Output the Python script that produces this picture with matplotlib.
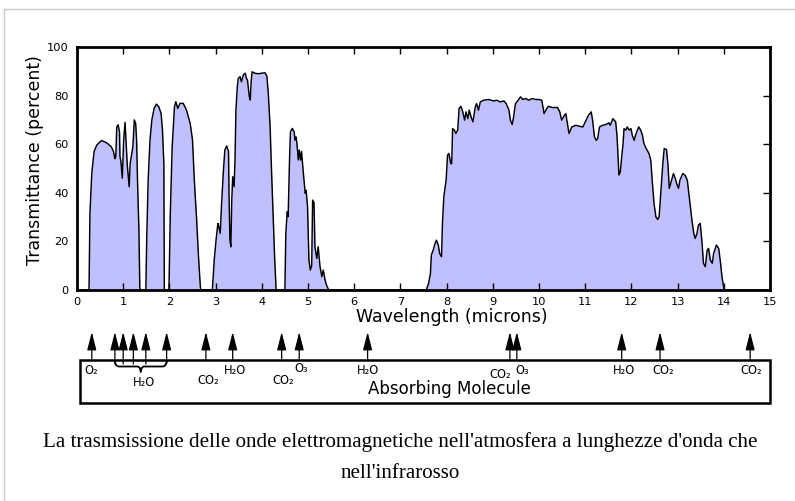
import matplotlib
matplotlib.use("Agg")
import matplotlib.pyplot as plt
from matplotlib.lines import Line2D
from matplotlib.patches import Rectangle

# ---------------- data ----------------
wavelength = [
    0.0, 0.26, 0.28, 0.32, 0.37, 0.43, 0.53, 0.64, 0.74, 0.79, 0.82, 0.84, 0.86, 0.89, 0.92,
    0.93, 0.95, 0.98, 1.01, 1.04, 1.06, 1.09, 1.13, 1.15, 1.21, 1.24, 1.27, 1.29, 1.31, 1.34,
    1.36, 1.37,
    1.49, 1.51, 1.54, 1.58, 1.62, 1.67, 1.72, 1.77, 1.82, 1.85, 1.88, 1.89,
    1.99, 2.02, 2.06, 2.11, 2.14, 2.18, 2.23, 2.30, 2.37, 2.45, 2.50, 2.54, 2.59, 2.63, 2.67, 2.68,
    2.93, 2.97, 3.01, 3.05, 3.07, 3.10, 3.13, 3.17, 3.20, 3.24, 3.28, 3.29, 3.31, 3.33, 3.35,
    3.37, 3.40, 3.42, 3.44, 3.47, 3.49, 3.53, 3.56, 3.60, 3.64, 3.67, 3.69, 3.73, 3.75, 3.77,
    3.79, 3.85, 3.92, 4.00, 4.07, 4.11, 4.14, 4.18, 4.21, 4.25, 4.28, 4.31,
    4.50, 4.52, 4.55, 4.57, 4.60, 4.62, 4.66, 4.70, 4.72, 4.74, 4.76, 4.79, 4.81, 4.84, 4.86,
    4.90, 4.94, 4.96, 4.99, 5.02, 5.05, 5.08, 5.10, 5.13, 5.15, 5.19, 5.22, 5.26, 5.30, 5.33,
    5.37, 5.40, 5.45,
    7.56, 7.61, 7.65, 7.67, 7.71, 7.75, 7.78, 7.82, 7.85, 7.89, 7.91, 7.94, 7.99, 8.02, 8.05,
    8.09, 8.11, 8.13, 8.17, 8.20, 8.24, 8.27, 8.31, 8.35, 8.39, 8.42, 8.46, 8.49, 8.53, 8.57,
    8.62, 8.65, 8.69, 8.73, 8.80, 8.91, 9.02, 9.09, 9.16, 9.24, 9.29, 9.35, 9.38, 9.42, 9.45,
    9.49, 9.55, 9.60, 9.65, 9.71, 9.78, 9.85, 9.93, 10.00, 10.06, 10.11, 10.15, 10.20, 10.29, 10.40,
    10.45, 10.49, 10.55, 10.58, 10.62, 10.65, 10.71, 10.80, 10.87, 10.95, 11.02, 11.07, 11.13, 11.16, 11.20,
    11.24, 11.27, 11.31, 11.38, 11.45, 11.51, 11.54, 11.60, 11.66, 11.69, 11.71, 11.73, 11.76, 11.79, 11.82,
    11.84, 11.88, 11.91, 11.95, 11.99, 12.02, 12.06, 12.09, 12.13, 12.16, 12.20, 12.24, 12.27, 12.32, 12.38,
    12.42, 12.45, 12.49, 12.53, 12.57, 12.60, 12.64, 12.68, 12.71, 12.76, 12.79, 12.82, 12.86, 12.91, 12.95,
    12.98, 13.02, 13.05, 13.11, 13.16, 13.21, 13.26, 13.31, 13.35, 13.38, 13.42, 13.45, 13.49, 13.53, 13.56,
    13.60, 13.64, 13.67, 13.71, 13.75, 13.78, 13.84, 13.89, 13.93, 13.96, 14.00, 14.02, 15.0,
]
transmittance = [
    0, 0, 31.5, 48, 57, 59.7, 61.5, 60.6, 59, 57, 54, 55, 67, 68, 65,
    55, 53, 46, 61.7, 69, 61.7, 51, 42.5, 52, 59, 70, 68.5, 61.7, 45, 24.7,
    1, 0,
    0, 22, 45, 61.7, 70, 74.8, 76.5, 75.4, 72.7, 65.8, 52, 0,
    0, 31.6, 59, 75.4, 77.5, 74.7, 76.8, 76.8, 74, 68.6, 61.7, 45, 28.8, 13.7, 1.4, 0,
    0, 12.3, 20.6, 27.4, 26, 23.3, 35.7, 49.4, 57.6, 59.3, 57, 39.8, 20.6, 17.8, 37,
    46.6, 42.5, 53.5, 74, 83.7, 87, 87.8, 85.7, 88.5, 89.2, 87, 86.4, 79.5, 78.2, 86,
    89.8, 89.2, 89, 89.2, 89.4, 88, 81, 67.2, 49.4, 28.8, 12.3, 0,
    0, 23.3, 32.2, 30.2, 53.5, 65.1, 66.5, 65.1, 61.7, 63, 60.4, 53.5, 57.6, 53.5, 57,
    48, 39.8, 41, 34.3, 12.3, 8.2, 10, 37, 36, 17.8, 13, 17.8, 9.6, 5.5, 8.2,
    4.1, 2, 0,
    0, 2.7, 6.8, 14.4, 16.4, 19.2, 20.5, 18.5, 15, 13.7, 27.4, 38.4, 45.2, 55.5, 56.2,
    52, 52, 66.4, 65.8, 64.4, 65.8, 74.7, 75.6, 73.3, 69.9, 73.3, 70.5, 74, 71.2, 69.2,
    75.3, 76.7, 74, 77.4, 78.1, 78.4, 77.8, 78.1, 77.4, 77.8, 76.7, 74, 69.9, 68.1, 71.2,
    76.7, 78.1, 79.5, 78.4, 78.8, 78.1, 78.8, 78.4, 78.4, 78.1, 72.6, 74, 75.6, 75.1, 75.1,
    73.3, 69.9, 71.9, 72.6, 67.8, 64.4, 67.1, 67.8, 67.4, 67.1, 69.9, 71.9, 73.3, 69.9, 63,
    61.6, 62.3, 67.1, 67.8, 68.1, 68.8, 67.8, 70.5, 69.2, 63, 54.8, 47.3, 48.6, 54.8, 60.3,
    66.4, 65.8, 67.1, 65.8, 66.4, 63.7, 61.6, 63.7, 65.8, 67.1, 65.8, 63.7, 60.3, 58.2, 56.2,
    53.4, 45.2, 35.6, 30.1, 29, 30.1, 41.1, 52, 58.2, 57.8, 52, 41.8, 44.5, 47.9, 45.9,
    43.8, 41.8, 45.2, 47.9, 47.3, 45.2, 37, 28.8, 23.3, 21.2, 23.3, 26.7, 27.4, 19.2, 11,
    9.6, 16.4, 17.1, 12.3, 11, 15.1, 18.5, 17.1, 11, 5.5, 0.7, 0, 0,
]

x_ticks = list(range(0, 16))
y_ticks = [0, 20, 40, 60, 80, 100]

absorber_wavelengths = [0.32, 0.82, 1.0, 1.22, 1.49, 1.94, 2.79, 3.37, 4.43, 4.81,
                        6.29, 9.37, 9.52, 11.79, 12.62, 14.57]
h2o_group = [0.82, 1.0, 1.22, 1.49, 1.94]
molecule_labels = ["O\u2082", "H\u2082O", "CO\u2082", "H\u2082O", "CO\u2082", "O\u2083",
                   "H\u2082O", "CO\u2082", "O\u2083", "H\u2082O", "CO\u2082", "CO\u2082"]
label_wavelengths = [0.30, 1.44, 2.84, 3.43, 4.46, 4.86, 6.29, 9.16, 9.63, 11.85, 12.68, 14.60]
label_rows = [370, 382, 380, 371, 380, 369, 371, 374, 371, 371, 371, 371]

caption_lines = ["La trasmsissione delle onde elettromagnetiche nell'atmosfera a lunghezze d'onda che",
                 "nell'infrarosso"]

# ---------------- figure ----------------
W, H = 795, 501
fig = plt.figure(figsize=(W / 100, H / 100), dpi=100)
fig.patch.set_facecolor("white")

def fx(px):
    return px / W

def fy(py):
    return 1 - py / H

SANS = "DejaVu Sans"

# light grey page frame
fig.add_artist(Line2D([fx(4), fx(4)], [fy(9), 0], color="#c8c8c8", lw=1.0, transform=fig.transFigure))
fig.add_artist(Line2D([fx(4), 1], [fy(9), fy(9)], color="#c8c8c8", lw=1.0, transform=fig.transFigure))

# main axes
L, R, T, B = 77, 770, 47, 290
ax = fig.add_axes([fx(L), fy(B), fx(R - L), (B - T) / H])
ax.fill_between(wavelength, transmittance, 0, color="#c0c0ff", lw=0)
ax.plot(wavelength, transmittance, color="black", lw=1.05)
ax.set_xlim(0, 15)
ax.set_ylim(0, 100)
for s in ax.spines.values():
    s.set_linewidth(2.0)

ax.set_xticks(x_ticks)
ax.set_yticks(y_ticks)
ax.set_xticklabels([str(t) for t in x_ticks], fontsize=8.2, family=SANS)
ax.set_yticklabels([str(t) for t in y_ticks], fontsize=8.2, family=SANS)
ax.tick_params(axis="x", direction="in", length=5, width=1.0, top=True, bottom=True, pad=5.0)
ax.tick_params(axis="y", direction="in", length=5, width=1.0, left=False, right=True, pad=6.0)

fig.text(fx(35), fy(160), "Transmittance (percent)", rotation=90, ha="center", va="center",
         fontsize=12.5, family=SANS)
fig.text(fx(452), fy(317), "Wavelength (microns)", ha="center", va="center",
         fontsize=12.5, family=SANS)

# absorbing-molecule panel (y data in pixel rows)
ax2 = fig.add_axes([fx(L), fy(420), fx(R - L), 100 / H])
ax2.set_xlim(0, 15)
ax2.set_ylim(420, 320)
ax2.axis("off")

box_top, box_bot = 360, 403
ax2.add_patch(Rectangle(((80 - L) / (R - L) * 15, box_top), 15 - (80 - L) / (R - L) * 15,
                        box_bot - box_top, fill=False, lw=1.8, ec="black", clip_on=False))

for w in absorber_wavelengths:
    stem_start = 364 if w in h2o_group else box_top
    ax2.annotate("", xy=(w, 332), xytext=(w, stem_start),
                 arrowprops=dict(arrowstyle="-|>,head_length=1.1,head_width=0.28",
                                 color="black", lw=0.9, shrinkA=0, shrinkB=0,
                                 mutation_scale=10),
                 annotation_clip=False)

# brace under the water-vapour group
b0, b1 = min(h2o_group), max(h2o_group)
bm = 1.38
ax2.plot([b0, b0 + 0.03, b0 + 0.08, bm - 0.06, bm - 0.02, bm, bm + 0.02, bm + 0.06,
          b1 - 0.08, b1 - 0.03, b1],
         [362, 365.5, 366.5, 366.5, 368, 372, 368, 366.5, 366.5, 365.5, 362],
         color="black", lw=1.3, clip_on=False)

for lab, lx, ly in zip(molecule_labels, label_wavelengths, label_rows):
    ax2.text(lx, ly, lab, ha="center", va="center", fontsize=8.3, family=SANS)

ax2.text((449 - L) / (R - L) * 15, 389, "Absorbing Molecule", ha="center", va="center",
         fontsize=12, family=SANS)

# caption
cap1 = fig.text(fx(400), fy(442), caption_lines[0], ha="center", va="center",
                fontsize=14.5, family="Liberation Serif")
cap2 = fig.text(fx(400), fy(473), caption_lines[1], ha="center", va="center",
                fontsize=14.5, family="Liberation Serif")
fig.canvas.draw()
wpx = cap1.get_window_extent().width
scale = 713 / wpx
cap1.set_fontsize(14.5 * scale)
cap2.set_fontsize(14.5 * scale)

fig.savefig("out.png", dpi=100)
